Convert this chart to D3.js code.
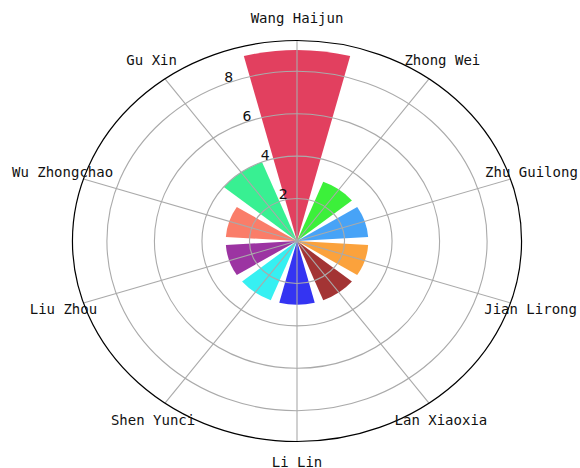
<!DOCTYPE html>
<html>
<head>
<meta charset="UTF-8">
<script src="https://d3js.org/d3.v7.min.js"></script>
<style>
  body { margin: 0; background: #fff; }
  svg { display: block; }
</style>
</head>
<body>
<div id="chart"></div>
<script>
// data, clockwise from the top
const names = ["Wang Haijun", "Zhong Wei", "Zhu Guilong", "Jian Lirong", "Lan Xiaoxia",
               "Li Lin", "Shen Yunci", "Liu Zhou", "Wu Zhongchao", "Gu Xin"];
const values = [9, 3, 3, 3, 3, 3, 3, 3, 3, 4];
const colors = ["#e2405f", "#3cf03a", "#47a3f7", "#fba23c", "#a33434",
                "#3434f2", "#36f0f2", "#9c34a2", "#fa7d69", "#38f092"];
const rTicks = [2, 4, 6, 8];

const width = 580, height = 468;
const cx = 297, cy = 241;
const sx = 1.12; // picture is a bit wider than tall

const svg = d3.select("#chart").append("svg")
  .attr("width", width).attr("height", height);

const r = d3.scaleLinear().domain([0, 9.45]).range([0, 200.5]);
const step = 2 * Math.PI / names.length;
const angle = d3.scaleLinear().domain([0, names.length]).range([0, 2 * Math.PI]);
const R = r.range()[1];

const g = svg.append("g").attr("transform", `translate(${cx},${cy}) scale(${sx},1)`);

// bars
const arc = d3.arc()
  .innerRadius(0)
  .outerRadius(d => r(d.v))
  .startAngle(d => angle(d.i) - step * 0.4)
  .endAngle(d => angle(d.i) + step * 0.4);

g.append("g").selectAll("path")
  .data(values.map((v, i) => ({ v, i })))
  .join("path")
  .attr("d", arc)
  .attr("fill", (d, i) => colors[i]);

// grid on top of bars (matplotlib polar default)
g.append("g").selectAll("circle")
  .data(rTicks)
  .join("circle")
  .attr("r", d => r(d))
  .attr("fill", "none")
  .attr("stroke", "#aaa")
  .attr("stroke-width", 1.1)
  .attr("vector-effect", "non-scaling-stroke");

g.append("g").selectAll("line")
  .data(names)
  .join("line")
  .attr("x1", 0).attr("y1", 0)
  .attr("x2", (d, i) => R * Math.sin(angle(i)))
  .attr("y2", (d, i) => -R * Math.cos(angle(i)))
  .attr("stroke", "#aaa")
  .attr("stroke-width", 1.1)
  .attr("vector-effect", "non-scaling-stroke");

g.append("circle")
  .attr("r", R)
  .attr("fill", "none")
  .attr("stroke", "#000")
  .attr("stroke-width", 1.2)
  .attr("vector-effect", "non-scaling-stroke");

// radial tick labels at 22.5 deg left of north
const ta = -Math.PI / 8;
svg.append("g").selectAll("text")
  .data(rTicks)
  .join("text")
  .attr("x", d => cx + sx * r(d) * Math.sin(ta) + 4.5)
  .attr("y", d => cy - r(d) * Math.cos(ta) - 7.5)
  .attr("text-anchor", "middle")
  .attr("dominant-baseline", "central")
  .attr("font-family", "DejaVu Sans")
  .attr("font-size", 14)
  .attr("fill", "#111")
  .text(d => d);

// category labels, centred on the cap height
const pad = a => 21.5 + 1.5 * Math.cos(a);
svg.append("g").selectAll("text")
  .data(names)
  .join("text")
  .attr("x", (d, i) => cx + (sx * R + pad(angle(i))) * Math.sin(angle(i)))
  .attr("y", (d, i) => cy - (R + pad(angle(i))) * Math.cos(angle(i)) + 5)
  .attr("text-anchor", "middle")
  .attr("font-family", "DejaVu Sans Mono")
  .attr("font-size", 14)
  .attr("fill", "#111")
  .text(d => d);
</script>
</body>
</html>
